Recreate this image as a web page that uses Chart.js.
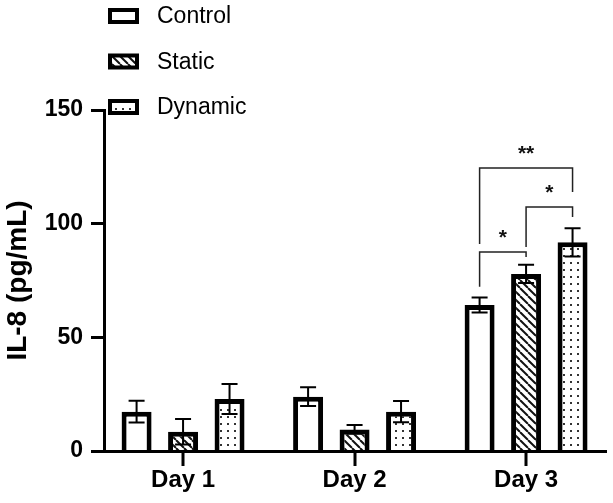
<html><head>
<meta charset="UTF-8">
<title>IL-8</title>
<script src="https://cdn.jsdelivr.net/npm/chart.js"></script>
<style>
    body { margin: 0; padding: 0; background: white; }
    .wrap { width: 613px; height: 503px; }
</style>
</head>
<body>
<div class="wrap"><canvas id="il8Chart"></canvas></div>
<script>
    // data
    const categories = ['Day 1', 'Day 2', 'Day 3'];
    const seriesNames = ['Control', 'Static', 'Dynamic'];
    const controlMean = [17.3, 23.9, 64.2];
    const controlSD = [4.8, 4.1, 3.3];
    const staticMean = [8.5, 9.5, 77.9];
    const staticSD = [5.6, 1.9, 4.0];
    const dynamicMean = [22.9, 17.3, 91.8];
    const dynamicSD = [6.6, 4.7, 6.2];
    const yTickValues = [0, 50, 100, 150];

    // significance brackets on Day 3 (series index pairs, heights in pg/mL)
    const sigDay = 2;
    const sigFrom = [0, 1, 0];
    const sigTo = [1, 2, 2];
    const sigTop = [87.5, 107.3, 124.5];
    const sigFromEnd = [72.2, 89.7, 91.1];
    const sigToEnd = [85.3, 102.9, 113.9];
    const sigLabels = ['*', '*', '**'];

    const means = [controlMean, staticMean, dynamicMean];
    const errors = [controlSD, staticSD, dynamicSD];
    const FONT = "'Liberation Sans', Arial, sans-serif";

    function hatchPattern() {
        const c = document.createElement('canvas');
        c.width = 8; c.height = 8;
        const g = c.getContext('2d');
        g.fillStyle = 'white';
        g.fillRect(0, 0, 8, 8);
        g.strokeStyle = '#111';
        g.lineWidth = 2;
        for (let k = -1; k <= 1; k++) {
            g.beginPath();
            g.moveTo(k * 8, 0);
            g.lineTo(k * 8 + 8, 8);
            g.stroke();
        }
        return g.createPattern(c, 'repeat');
    }

    function dotPattern() {
        const c = document.createElement('canvas');
        c.width = 7; c.height = 7;
        const g = c.getContext('2d');
        g.fillStyle = 'white';
        g.fillRect(0, 0, 7, 7);
        g.fillStyle = '#333';
        g.fillRect(3, 3, 2, 2);
        return g.createPattern(c, 'repeat');
    }

    const fills = ['white', hatchPattern(), dotPattern()];

    const errorBars = {
        id: 'errorBars',
        afterDatasetsDraw(chart) {
            const ctx = chart.ctx;
            const y = chart.scales.y;
            ctx.save();
            ctx.strokeStyle = '#000';
            ctx.lineWidth = 2;
            chart.data.datasets.forEach((ds, i) => {
                chart.getDatasetMeta(i).data.forEach((bar, j) => {
                    const v = means[i][j], e = errors[i][j];
                    const top = y.getPixelForValue(v + e);
                    const bot = y.getPixelForValue(v - e);
                    ctx.beginPath();
                    ctx.moveTo(bar.x, top); ctx.lineTo(bar.x, bot);
                    ctx.moveTo(bar.x - 8, top); ctx.lineTo(bar.x + 8, top);
                    ctx.moveTo(bar.x - 8, bot); ctx.lineTo(bar.x + 8, bot);
                    ctx.stroke();
                });
            });

            // brackets
            ctx.strokeStyle = '#222';
            ctx.lineWidth = 1.5;
            ctx.fillStyle = '#111';
            ctx.font = 'bold 21px ' + FONT;
            ctx.textAlign = 'center';
            ctx.textBaseline = 'alphabetic';
            sigFrom.forEach((a, k) => {
                const xa = chart.getDatasetMeta(a).data[sigDay].x;
                const xb = chart.getDatasetMeta(sigTo[k]).data[sigDay].x;
                const yt = y.getPixelForValue(sigTop[k]);
                ctx.beginPath();
                ctx.moveTo(xa, y.getPixelForValue(sigFromEnd[k]));
                ctx.lineTo(xa, yt);
                ctx.lineTo(xb, yt);
                ctx.lineTo(xb, y.getPixelForValue(sigToEnd[k]));
                ctx.stroke();
                const m = ctx.measureText(sigLabels[k]);
                const cy = yt - 18;
                const base = cy - (m.actualBoundingBoxDescent - m.actualBoundingBoxAscent) / 2;
                ctx.fillText(sigLabels[k], (xa + xb) / 2, base);
            });
            ctx.restore();
        }
    };

    const sideLegend = {
        id: 'sideLegend',
        afterDraw(chart) {
            const ctx = chart.ctx;
            ctx.save();
            // tick mark under each day
            const xs = chart.scales.x;
            const base = chart.chartArea.bottom;
            ctx.fillStyle = '#000';
            categories.forEach((c, i) => {
                const px = xs.getPixelForValue(i + 1);
                ctx.fillRect(Math.round(px) - 1.5, base, 3, 15);
            });

            chart.data.datasets.forEach((ds, i) => {
                const cy = 16 + i * 45.5;
                ctx.fillStyle = '#000';
                ctx.fillRect(108, cy - 8, 31, 16);
                ctx.fillStyle = ds.backgroundColor;
                ctx.fillRect(112, cy - 4, 23, 8);
                ctx.fillStyle = '#000';
                ctx.font = '23px ' + FONT;
                ctx.textAlign = 'left';
                ctx.textBaseline = 'middle';
                ctx.fillText(ds.label, 157, cy + 1);
            });
            ctx.restore();
        }
    };

    const ctx = document.getElementById('il8Chart').getContext('2d');
    new Chart(ctx, {
        type: 'bar',
        data: {
            datasets: seriesNames.map((name, i) => ({
                label: name,
                data: means[i].map((v, j) => ({ x: j + 1, y: v })),
                backgroundColor: fills[i],
                borderColor: '#000',
                borderWidth: 5,
                categoryPercentage: 0.813,
                barPercentage: 0.645
            }))
        },
        options: {
            responsive: true,
            maintainAspectRatio: false,
            animation: false,
            layout: { padding: { top: 110, right: 7, left: 0, bottom: 0 } },
            plugins: {
                legend: { display: false },
                tooltip: { enabled: false }
            },
            scales: {
                x: {
                    type: 'linear',
                    min: 0.539,
                    max: 3.466,
                    offset: false,
                    grid: { offset: false, drawOnChartArea: false, drawTicks: false },
                    border: { display: true, color: '#000', width: 3, z: 1 },
                    afterBuildTicks: s => { s.ticks = categories.map((c, i) => ({ value: i + 1 })); },
                    afterFit: s => { s.height = 52; },
                    ticks: {
                        autoSkip: false,
                        maxRotation: 0,
                        padding: 15,
                        color: '#000',
                        font: { family: FONT, size: 24, weight: 'bold' },
                        callback: v => categories[v - 1]
                    }
                },
                y: {
                    min: 0,
                    max: 150,
                    grid: { drawOnChartArea: false, drawTicks: true, tickLength: 13, tickWidth: 3, tickColor: '#000' },
                    border: { display: true, color: '#000', width: 3, z: 1 },
                    afterBuildTicks: s => { s.ticks = yTickValues.map(v => ({ value: v })); },
                    afterFit: s => { s.width = 104; },
                    ticks: {
                        padding: 8,
                        color: '#000',
                        font: { family: FONT, size: 23, weight: 'bold' }
                    },
                    title: {
                        display: true,
                        text: 'IL-8 (pg/mL)',
                        color: '#000',
                        font: { family: FONT, size: 28, weight: 'bold' },
                        padding: { top: 1, bottom: 0 }
                    }
                }
            }
        },
        plugins: [errorBars, sideLegend]
    });
</script>
</body></html>
